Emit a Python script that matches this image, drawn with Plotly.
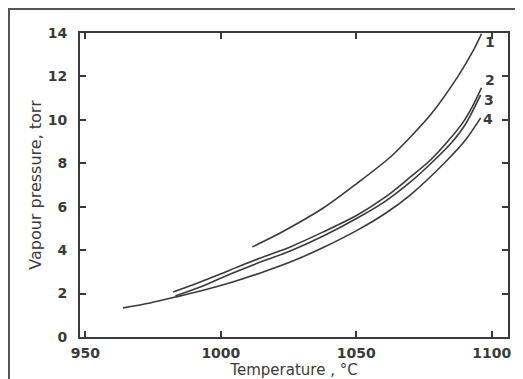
import plotly.graph_objects as go

# Curve data (temperature in °C, vapour pressure in torr)
t1 = [1011.6, 1021.9, 1037.8, 1050.4, 1062.6, 1070.0, 1077.4, 1087.4, 1093.3, 1096.2]
p1 = [4.15, 4.79, 5.94, 7.09, 8.29, 9.21, 10.23, 11.98, 13.22, 13.96]

t2 = [982.4, 992.4, 1003.5, 1014.6, 1025.6, 1037.8, 1050.4, 1060.8, 1070.0, 1077.4, 1083.7, 1089.2, 1092.9, 1096.2]
p2 = [2.07, 2.53, 3.09, 3.64, 4.15, 4.84, 5.62, 6.45, 7.37, 8.15, 9.00, 9.85, 10.62, 11.47]

t3 = [983.2, 992.4, 1003.5, 1014.6, 1025.6, 1037.8, 1050.4, 1060.8, 1070.0, 1078.1, 1084.8, 1090.3, 1095.9]
p3 = [1.89, 2.30, 2.90, 3.45, 3.96, 4.65, 5.48, 6.26, 7.14, 8.06, 8.90, 9.80, 11.15]

t4 = [963.9, 973.9, 983.2, 992.4, 1003.5, 1014.6, 1025.6, 1037.8, 1050.4, 1060.8, 1070.0, 1082.9, 1090.3, 1095.9]
p4 = [1.34, 1.57, 1.84, 2.12, 2.50, 2.95, 3.45, 4.12, 4.92, 5.70, 6.55, 8.06, 9.07, 10.09]

curve_names = ["1", "2", "3", "4"]
x_ticks = [950, 1000, 1050, 1100]
y_ticks = [0, 2, 4, 6, 8, 10, 12, 14]

series = [(t1, p1), (t2, p2), (t3, p3), (t4, p4)]
label_shift = [(9, -8), (9, 8), (8, -5), (7, -1)]

ink = "#3a3a3a"
font_family = "DejaVu Sans, Liberation Sans, sans-serif"

fig = go.Figure()
for (t, p), name in zip(series, curve_names):
    fig.add_trace(go.Scatter(
        x=t, y=p, mode="lines", name=name,
        line=dict(color=ink, width=1.6, shape="spline", smoothing=0.8),
        showlegend=False, hoverinfo="skip",
    ))

for (t, p), name, (dx, dy) in zip(series, curve_names, label_shift):
    fig.add_annotation(
        x=t[-1], y=p[-1], text="<b>%s</b>" % name, showarrow=False,
        xshift=dx, yshift=dy, xanchor="center", yanchor="middle",
        font=dict(family=font_family, size=14, color=ink),
    )

axis_common = dict(
    showline=True, linecolor=ink, linewidth=1.8, mirror="ticks",
    ticks="inside", ticklen=6, tickwidth=1.5, tickcolor=ink,
    showgrid=False, zeroline=False, automargin=False,
    tickfont=dict(family=font_family, size=14, color=ink, weight="bold"),
)

fig.update_xaxes(
    range=[948, 1106], tickvals=x_ticks, ticktext=[str(v) for v in x_ticks],
    title=dict(text="Temperature , °C", standoff=0,
               font=dict(family=font_family, size=15, color=ink)),
    ticklabelstandoff=2,
    **axis_common,
)
fig.update_yaxes(
    range=[0, 14], tickvals=y_ticks, ticktext=[str(v) for v in y_ticks],
    title=dict(text="Vapour pressure, torr", standoff=2,
               font=dict(family=font_family, size=16, color=ink)),
    ticklabelstandoff=8,
    **axis_common,
)

# outer frame of the scanned figure (left and top edges visible)
fig.add_shape(type="rect", xref="paper", yref="paper",
              x0=-0.1659, x1=1.2, y0=-0.3, y1=1.0789,
              line=dict(color="#555555", width=2), layer="below")

fig.update_layout(
    width=515, height=371,
    margin=dict(l=72, r=15, t=25, b=42),
    paper_bgcolor="white", plot_bgcolor="white",
    font=dict(family=font_family, color=ink),
)

fig.write_html("out.html")
